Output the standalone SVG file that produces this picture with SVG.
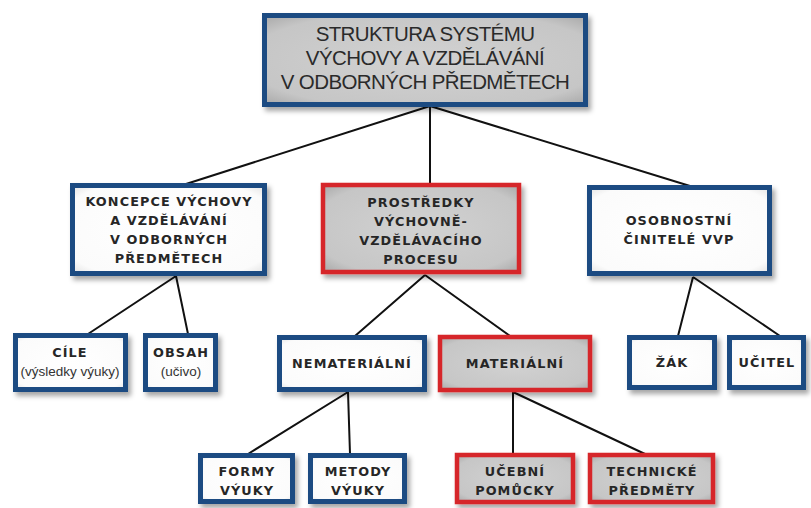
<svg xmlns="http://www.w3.org/2000/svg" width="811" height="508" viewBox="0 0 811 508">
<defs>
<filter id="sh" x="-10%" y="-10%" width="130%" height="140%">
<feDropShadow dx="3" dy="4" stdDeviation="2.5" flood-color="#000" flood-opacity="0.35"/>
</filter>
<radialGradient id="gray" cx="50%" cy="50%" r="70%">
<stop offset="0" stop-color="#d2d2d2"/>
<stop offset="0.8" stop-color="#c6c6c6"/>
<stop offset="1" stop-color="#a9a9a9"/>
</radialGradient>
<radialGradient id="white" cx="50%" cy="50%" r="70%">
<stop offset="0" stop-color="#ffffff"/>
<stop offset="0.85" stop-color="#fbfbfb"/>
<stop offset="1" stop-color="#e4e4e4"/>
</radialGradient>
</defs>
<style>
.blue{stroke:#1d4b82;stroke-width:5;filter:url(#sh)}
.red{stroke:#d6262b;stroke-width:4.5;filter:url(#sh)}
.g{fill:url(#gray)}
.w{fill:url(#white)}
.t{font-family:"DejaVu Sans",sans-serif;font-weight:bold;font-size:12.8px;letter-spacing:1.1px;fill:#262626;text-anchor:middle}
.n{font-family:"Liberation Sans",sans-serif;font-size:13.5px;fill:#333;text-anchor:middle}
.top{font-family:"Liberation Sans",sans-serif;font-size:20.5px;letter-spacing:-0.6px;fill:#2a2a2a;text-anchor:middle}
.c{stroke:#111;stroke-width:2;fill:none}
</style>
<rect width="811" height="508" fill="#ffffff"/>
<g id="connectors">
<path class="c" d="M430 106 L186 184 M430 106 L430 184 M430 106 L690 186"/>
<path class="c" d="M176 276 L88 334 M176 276 L188 334"/>
<path class="c" d="M425 275 L355 336 M425 275 L510 336"/>
<path class="c" d="M693 277 L678 336 M693 277 L780 336"/>
<path class="c" d="M348 392 L248 454 M348 392 L350 454"/>
<path class="c" d="M513 392 L513 454 M513 392 L645 454"/>
</g>
<g id="root">
<rect class="blue g" x="264.5" y="15.5" width="321" height="89"/>
<text class="top" x="425" y="41">STRUKTURA SYSTÉMU</text>
<text class="top" x="425" y="65">VÝCHOVY A VZDĚLÁVÁNÍ</text>
<text class="top" x="425" y="89">V ODBORNÝCH PŘEDMĚTECH</text>
</g>
<g id="koncepce">
<rect class="blue w" x="72.5" y="185.5" width="192" height="88"/>
<text class="t" x="169" y="206">KONCEPCE VÝCHOVY</text>
<text class="t" x="169" y="225">A VZDĚLÁVÁNÍ</text>
<text class="t" x="169" y="244">V ODBORNÝCH</text>
<text class="t" x="169" y="263">PŘEDMĚTECH</text>
</g>
<g id="prostredky">
<rect class="red g" x="323" y="185" width="196" height="87"/>
<text class="t" x="421" y="207">PROSTŘEDKY</text>
<text class="t" x="421" y="226">VÝCHOVNĚ-</text>
<text class="t" x="421" y="245">VZDĚLÁVACÍHO</text>
<text class="t" x="421" y="264">PROCESU</text>
</g>
<g id="osobnostni">
<rect class="blue w" x="589.5" y="187.5" width="180" height="86"/>
<text class="t" x="679" y="225">OSOBNOSTNÍ</text>
<text class="t" x="679" y="244">ČINITELÉ VVP</text>
</g>
<g id="cile">
<rect class="blue w" x="15.5" y="335.5" width="110" height="54"/>
<text class="t" x="70" y="357">CÍLE</text>
<text class="n" x="70" y="376">(výsledky výuky)</text>
</g>
<g id="obsah">
<rect class="blue w" x="145.5" y="335.5" width="70" height="54"/>
<text class="t" x="181" y="357">OBSAH</text>
<text class="n" x="181" y="376">(učivo)</text>
</g>
<g id="nematerialni">
<rect class="blue w" x="279.5" y="337.5" width="145" height="52"/>
<text class="t" x="352" y="368">NEMATERIÁLNÍ</text>
</g>
<g id="materialni">
<rect class="red g" x="440" y="337" width="150" height="53"/>
<text class="t" x="515" y="368">MATERIÁLNÍ</text>
</g>
<g id="zak">
<rect class="blue w" x="629.5" y="337.5" width="85" height="50"/>
<text class="t" x="672" y="367">ŽÁK</text>
</g>
<g id="ucitel">
<rect class="blue w" x="729.5" y="337.5" width="74" height="50"/>
<text class="t" x="767" y="367">UČITEL</text>
</g>
<g id="formy">
<rect class="blue w" x="200.5" y="455.5" width="92" height="46"/>
<text class="t" x="247" y="476">FORMY</text>
<text class="t" x="247" y="495">VÝUKY</text>
</g>
<g id="metody">
<rect class="blue w" x="310.5" y="455.5" width="94" height="46"/>
<text class="t" x="358" y="476">METODY</text>
<text class="t" x="358" y="495">VÝUKY</text>
</g>
<g id="ucebni">
<rect class="red g" x="457" y="455" width="116" height="47"/>
<text class="t" x="515" y="476">UČEBNÍ</text>
<text class="t" x="515" y="495">POMŮCKY</text>
</g>
<g id="technicke">
<rect class="red g" x="590" y="455" width="123" height="47"/>
<text class="t" x="652" y="476">TECHNICKÉ</text>
<text class="t" x="652" y="495">PŘEDMĚTY</text>
</g>
</svg>
